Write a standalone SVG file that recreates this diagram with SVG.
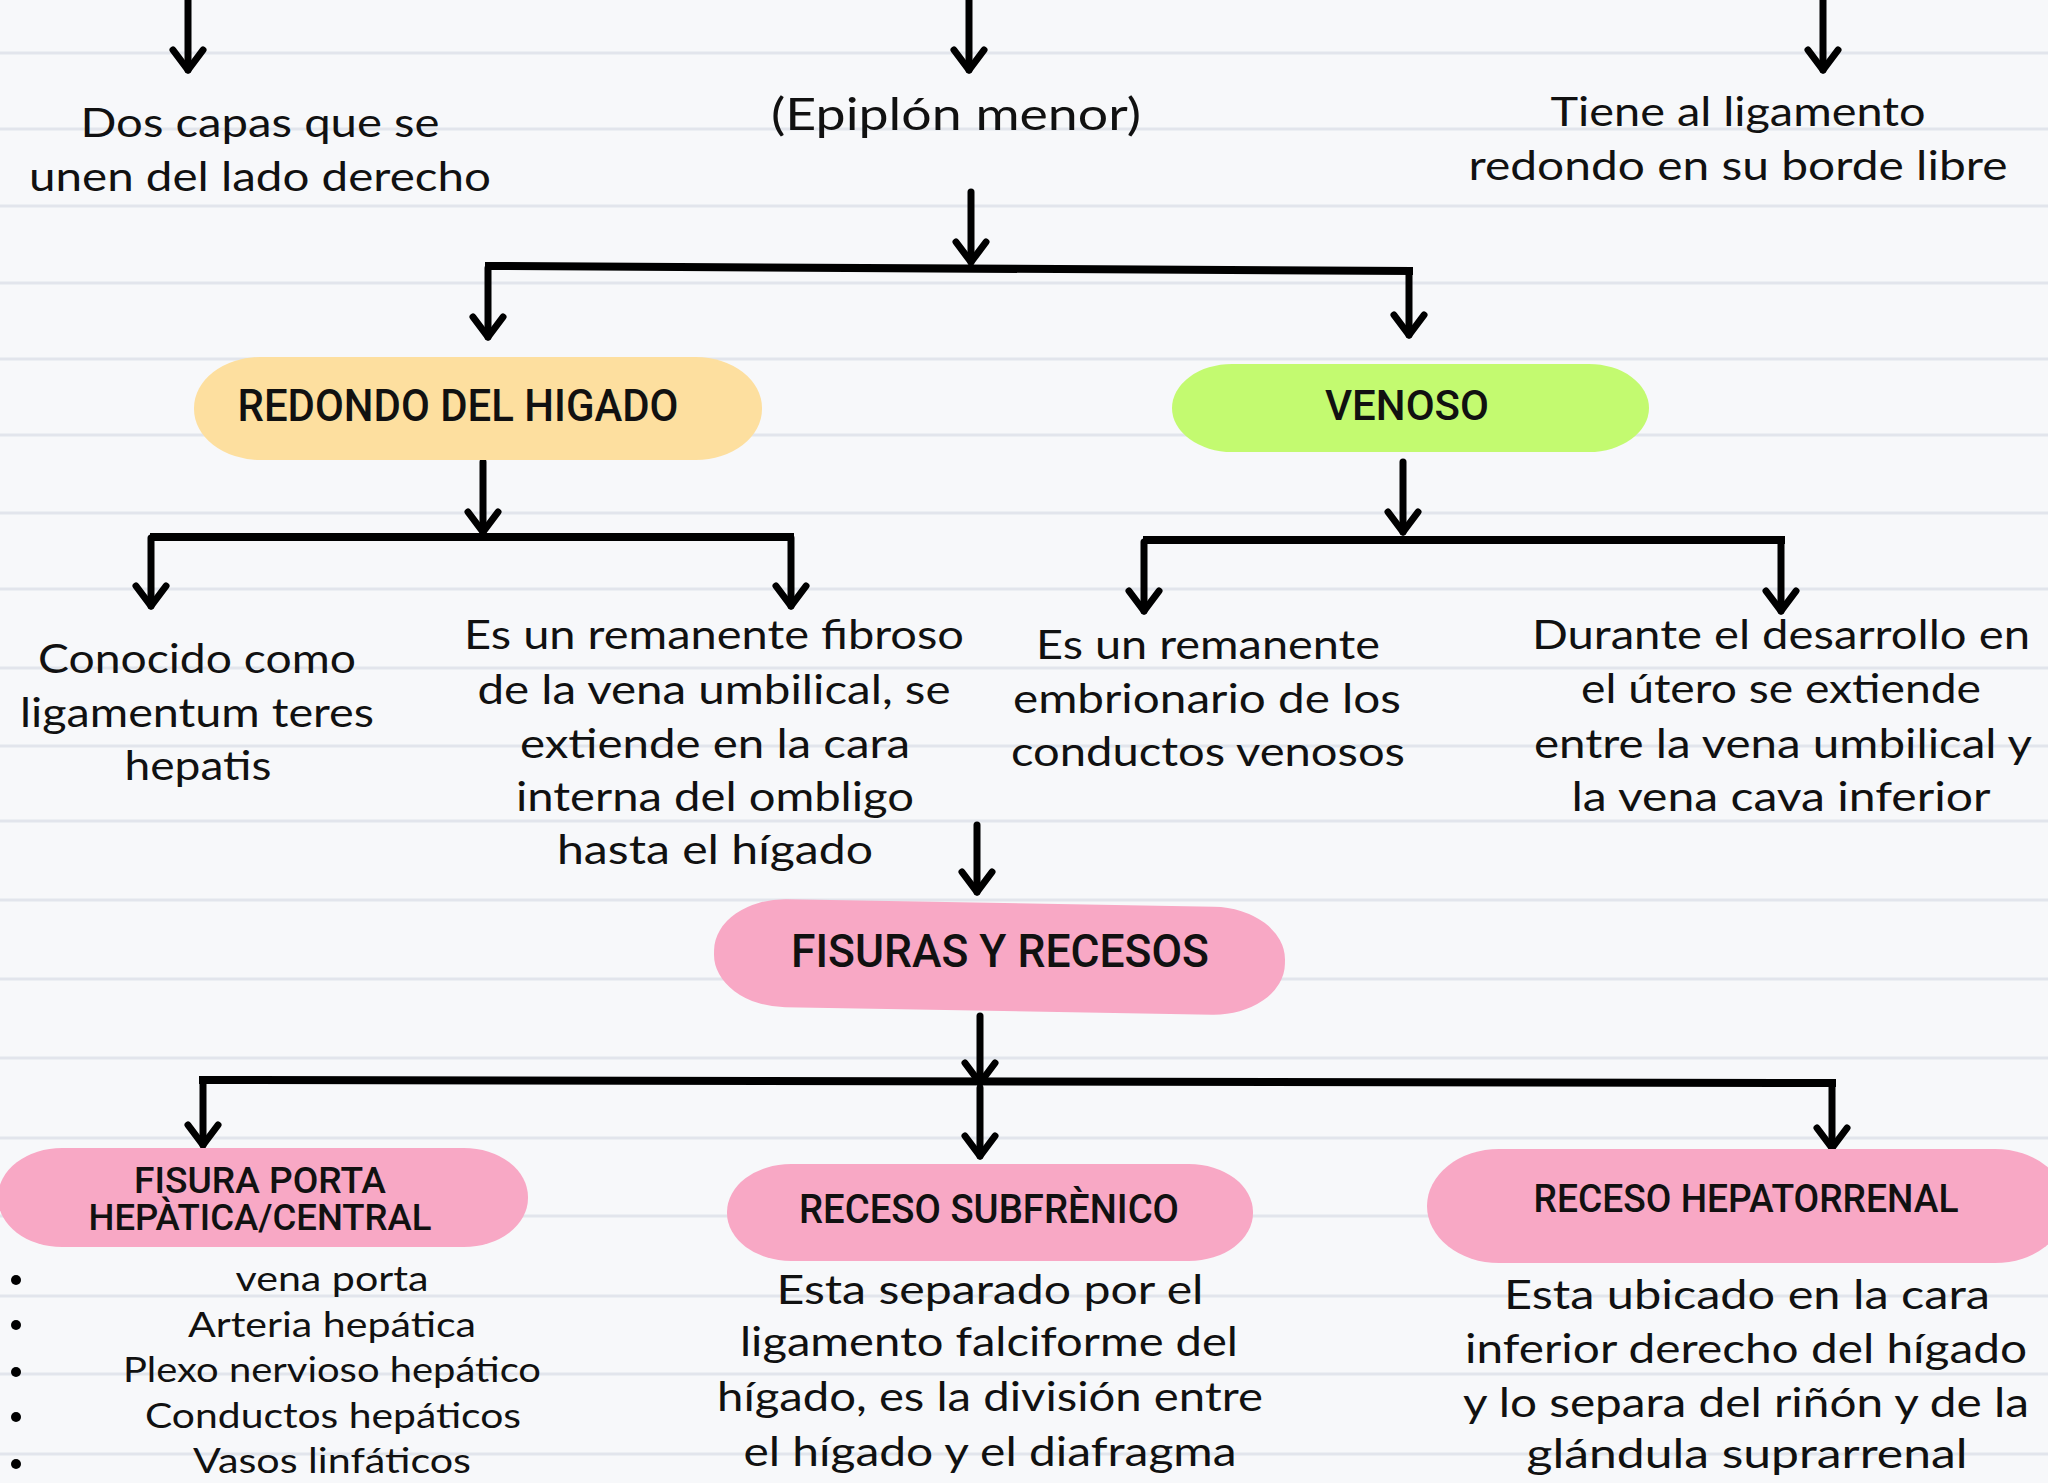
<svg xmlns="http://www.w3.org/2000/svg" width="2048" height="1483" viewBox="0 0 2048 1483">
<defs>
<style>
.bg{fill:#f7f8fa}
.rule{stroke:#e2e5ec;stroke-width:3}
.body{font-family:Lato,"Open Sans","Noto Sans",sans-serif;font-size:40px;fill:#111;text-anchor:middle}
.head{font-family:Roboto,"Noto Sans",sans-serif;font-weight:500;fill:#111;text-anchor:middle}
.conn{stroke:#000;stroke-width:7;fill:none;stroke-linecap:round}
.bar{stroke:#000;stroke-width:8;fill:none;stroke-linecap:square}
.peach{fill:#fddf9f}
.lime{fill:#c3fa70}
.pink{fill:#f8a8c5}
</style>
<marker id="ah" markerUnits="userSpaceOnUse" orient="auto" refX="0" refY="0" markerWidth="60" markerHeight="60" overflow="visible">
<path d="M-20,-15 L0,0 L-20,15" fill="none" stroke="#000" stroke-width="7" stroke-linecap="round" stroke-linejoin="round"/>
</marker>
</defs>
<rect class="bg" x="0" y="0" width="2048" height="1483"/>
<g id="rules">
<line class="rule" x1="0" y1="53" x2="2048" y2="53"/>
<line class="rule" x1="0" y1="129" x2="2048" y2="129"/>
<line class="rule" x1="0" y1="206" x2="2048" y2="206"/>
<line class="rule" x1="0" y1="283" x2="2048" y2="283"/>
<line class="rule" x1="0" y1="359" x2="2048" y2="359"/>
<line class="rule" x1="0" y1="435" x2="2048" y2="435"/>
<line class="rule" x1="0" y1="513" x2="2048" y2="513"/>
<line class="rule" x1="0" y1="589" x2="2048" y2="589"/>
<line class="rule" x1="0" y1="668" x2="2048" y2="668"/>
<line class="rule" x1="0" y1="746" x2="2048" y2="746"/>
<line class="rule" x1="0" y1="821" x2="2048" y2="821"/>
<line class="rule" x1="0" y1="900" x2="2048" y2="900"/>
<line class="rule" x1="0" y1="979" x2="2048" y2="979"/>
<line class="rule" x1="0" y1="1058" x2="2048" y2="1058"/>
<line class="rule" x1="0" y1="1138" x2="2048" y2="1138"/>
<line class="rule" x1="0" y1="1216" x2="2048" y2="1216"/>
<line class="rule" x1="0" y1="1296" x2="2048" y2="1296"/>
<line class="rule" x1="0" y1="1374" x2="2048" y2="1374"/>
<line class="rule" x1="0" y1="1454" x2="2048" y2="1454"/>
</g>

<g id="connectors">
<line class="conn" x1="188" y1="0" x2="188" y2="70" marker-end="url(#ah)"/>
<line class="conn" x1="969" y1="0" x2="969" y2="70" marker-end="url(#ah)"/>
<line class="conn" x1="1823" y1="0" x2="1823" y2="70" marker-end="url(#ah)"/>
<line class="conn" x1="971" y1="192" x2="971" y2="262" marker-end="url(#ah)"/>
<line class="bar" x1="489" y1="266" x2="1409" y2="271"/>
<line class="conn" x1="488" y1="268" x2="488" y2="337" marker-end="url(#ah)"/>
<line class="conn" x1="1409" y1="271" x2="1409" y2="335" marker-end="url(#ah)"/>
<line class="conn" x1="483" y1="462" x2="483" y2="532" marker-end="url(#ah)"/>
<line class="bar" x1="154" y1="537" x2="790" y2="537"/>
<line class="conn" x1="151" y1="538" x2="151" y2="606" marker-end="url(#ah)"/>
<line class="conn" x1="791" y1="538" x2="791" y2="606" marker-end="url(#ah)"/>
<line class="conn" x1="1403" y1="462" x2="1403" y2="532" marker-end="url(#ah)"/>
<line class="bar" x1="1147" y1="540" x2="1781" y2="540"/>
<line class="conn" x1="1144" y1="542" x2="1144" y2="611" marker-end="url(#ah)"/>
<line class="conn" x1="1781" y1="541" x2="1781" y2="611" marker-end="url(#ah)"/>
<line class="conn" x1="977" y1="825" x2="977" y2="892" marker-end="url(#ah)"/>
<line class="conn" x1="980" y1="1016" x2="980" y2="1083" marker-end="url(#ah)"/>
<line class="bar" x1="203" y1="1080" x2="1832" y2="1083"/>
<line class="conn" x1="203" y1="1081" x2="203" y2="1145" marker-end="url(#ah)"/>
<line class="conn" x1="980" y1="1088" x2="980" y2="1156" marker-end="url(#ah)"/>
<line class="conn" x1="1832" y1="1084" x2="1832" y2="1148" marker-end="url(#ah)"/>
</g>

<g id="note-dos-capas">
<text class="body" x="260" y="137" textLength="359" lengthAdjust="spacingAndGlyphs">Dos capas que se</text>
<text class="body" x="260" y="191" textLength="462" lengthAdjust="spacingAndGlyphs">unen del lado derecho</text>
</g>
<g id="note-epiplon">
<text class="body" x="956" y="130" style="font-size:44px" textLength="370" lengthAdjust="spacingAndGlyphs">(Epiplón menor)</text>
</g>
<g id="note-tiene">
<text class="body" x="1738" y="126" textLength="375" lengthAdjust="spacingAndGlyphs">Tiene al ligamento</text>
<text class="body" x="1738" y="180" textLength="539" lengthAdjust="spacingAndGlyphs">redondo en su borde libre</text>
</g>

<g id="node-redondo">
<rect class="peach" x="194" y="357" width="568" height="103" rx="66" ry="51"/>
<text class="head" x="458" y="421" style="font-size:44px" textLength="441" lengthAdjust="spacingAndGlyphs">REDONDO DEL HIGADO</text>
</g>
<g id="node-venoso">
<rect class="lime" x="1172" y="364" width="477" height="88" rx="60" ry="44"/>
<text class="head" x="1407" y="420" style="font-size:42px" textLength="164" lengthAdjust="spacingAndGlyphs">VENOSO</text>
</g>

<g id="note-conocido">
<text class="body" x="197" y="673" textLength="318" lengthAdjust="spacingAndGlyphs">Conocido como</text>
<text class="body" x="197" y="727" textLength="354" lengthAdjust="spacingAndGlyphs">ligamentum teres</text>
<text class="body" x="198" y="780" textLength="147" lengthAdjust="spacingAndGlyphs">hepatis</text>
</g>
<g id="note-fibroso">
<text class="body" x="714" y="649" textLength="500" lengthAdjust="spacingAndGlyphs">Es un remanente fibroso</text>
<text class="body" x="714" y="704" textLength="473" lengthAdjust="spacingAndGlyphs">de la vena umbilical, se</text>
<text class="body" x="715" y="758" textLength="390" lengthAdjust="spacingAndGlyphs">extiende en la cara</text>
<text class="body" x="715" y="811" textLength="398" lengthAdjust="spacingAndGlyphs">interna del ombligo</text>
<text class="body" x="715" y="864" textLength="316" lengthAdjust="spacingAndGlyphs">hasta el hígado</text>
</g>
<g id="note-embrionario">
<text class="body" x="1208" y="659" textLength="344" lengthAdjust="spacingAndGlyphs">Es un remanente</text>
<text class="body" x="1207" y="713" textLength="388" lengthAdjust="spacingAndGlyphs">embrionario de los</text>
<text class="body" x="1208" y="766" textLength="394" lengthAdjust="spacingAndGlyphs">conductos venosos</text>
</g>
<g id="note-durante">
<text class="body" x="1781" y="649" textLength="498" lengthAdjust="spacingAndGlyphs">Durante el desarrollo en</text>
<text class="body" x="1781" y="703" textLength="400" lengthAdjust="spacingAndGlyphs">el útero se extiende</text>
<text class="body" x="1783" y="758" textLength="498" lengthAdjust="spacingAndGlyphs">entre la vena umbilical y</text>
<text class="body" x="1781" y="811" textLength="419" lengthAdjust="spacingAndGlyphs">la vena cava inferior</text>
</g>

<g id="node-fisuras">
<rect class="pink" x="714" y="903" width="571" height="108" rx="72" ry="52" transform="rotate(1 1000 957)"/>
<text class="head" x="1000" y="967" style="font-size:46px" textLength="418" lengthAdjust="spacingAndGlyphs">FISURAS Y RECESOS</text>
</g>

<g id="node-fisura-porta">
<rect class="pink" x="-2" y="1148" width="530" height="99" rx="64" ry="49"/>
<text class="head" x="260" y="1193" style="font-size:37px" textLength="252" lengthAdjust="spacingAndGlyphs">FISURA PORTA</text>
<text class="head" x="260" y="1230" style="font-size:37px" textLength="343" lengthAdjust="spacingAndGlyphs">HEPÀTICA/CENTRAL</text>
</g>
<g id="list-porta">
<circle cx="16" cy="1280" r="5" fill="#000"/>
<circle cx="16" cy="1325" r="5" fill="#000"/>
<circle cx="16" cy="1372" r="5" fill="#000"/>
<circle cx="16" cy="1417" r="5" fill="#000"/>
<circle cx="16" cy="1464" r="5" fill="#000"/>
<text class="body" x="332" y="1291" style="font-size:35px" textLength="193" lengthAdjust="spacingAndGlyphs">vena porta</text>
<text class="body" x="332" y="1337" style="font-size:35px" textLength="288" lengthAdjust="spacingAndGlyphs">Arteria hepática</text>
<text class="body" x="332" y="1382" style="font-size:35px" textLength="418" lengthAdjust="spacingAndGlyphs">Plexo nervioso hepático</text>
<text class="body" x="333" y="1428" style="font-size:35px" textLength="376" lengthAdjust="spacingAndGlyphs">Conductos hepáticos</text>
<text class="body" x="332" y="1473" style="font-size:35px" textLength="278" lengthAdjust="spacingAndGlyphs">Vasos linfáticos</text>
</g>

<g id="node-subfrenico">
<rect class="pink" x="727" y="1164" width="526" height="97" rx="64" ry="48"/>
<text class="head" x="989" y="1223" style="font-size:40px" textLength="380" lengthAdjust="spacingAndGlyphs">RECESO  SUBFRÈNICO</text>
</g>
<g id="note-subfrenico">
<text class="body" x="990" y="1304" textLength="427" lengthAdjust="spacingAndGlyphs">Esta separado por el</text>
<text class="body" x="989" y="1356" textLength="498" lengthAdjust="spacingAndGlyphs">ligamento falciforme del</text>
<text class="body" x="990" y="1411" textLength="546" lengthAdjust="spacingAndGlyphs">hígado, es la división entre</text>
<text class="body" x="990" y="1466" textLength="493" lengthAdjust="spacingAndGlyphs">el hígado y el diafragma</text>
</g>

<g id="node-hepatorrenal">
<rect class="pink" x="1427" y="1149" width="640" height="114" rx="72" ry="57"/>
<text class="head" x="1746" y="1212" style="font-size:38px" textLength="425" lengthAdjust="spacingAndGlyphs">RECESO HEPATORRENAL</text>
</g>
<g id="note-hepatorrenal">
<text class="body" x="1747" y="1309" textLength="486" lengthAdjust="spacingAndGlyphs">Esta ubicado en la cara</text>
<text class="body" x="1746" y="1363" textLength="562" lengthAdjust="spacingAndGlyphs">inferior derecho del hígado</text>
<text class="body" x="1746" y="1417" textLength="566" lengthAdjust="spacingAndGlyphs">y lo separa del riñón y de la</text>
<text class="body" x="1747" y="1468" textLength="441" lengthAdjust="spacingAndGlyphs">glándula suprarrenal</text>
</g>
</svg>
